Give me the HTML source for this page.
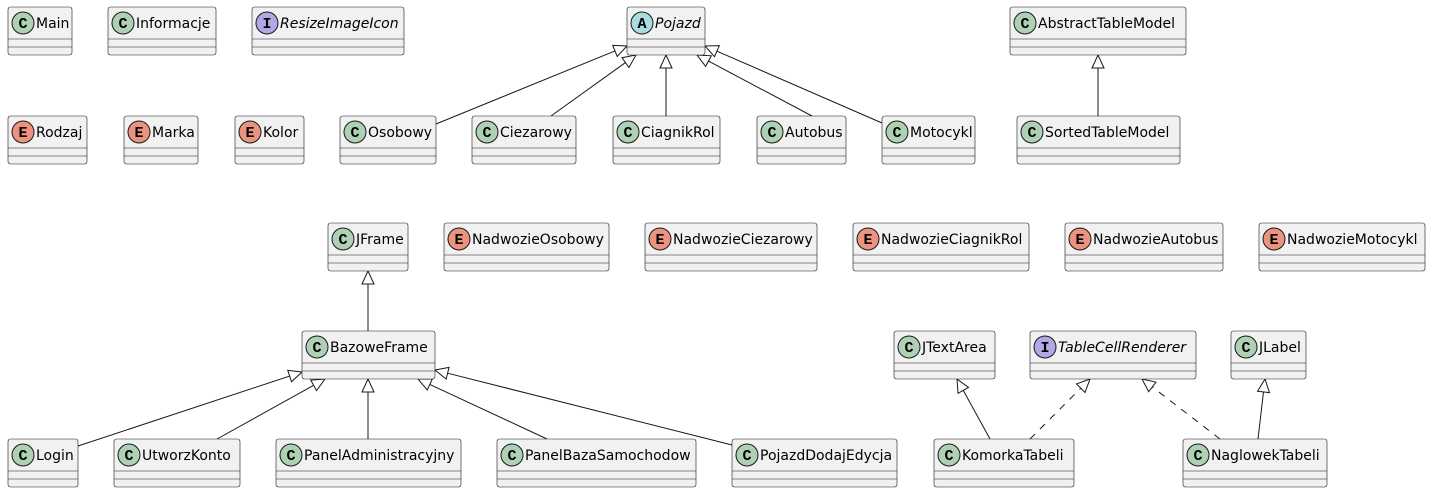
<!DOCTYPE html>
<html><head><meta charset="utf-8"><style>
html,body{margin:0;padding:0;background:#fff;}
svg{display:block;font-family:"DejaVu Sans","Liberation Sans",sans-serif;}
</style></head><body>
<svg id="s" width="1433" height="494" xmlns="http://www.w3.org/2000/svg"></svg>
<script>
var s=document.getElementById('s'),NS='http://www.w3.org/2000/svg';
function el(t,a,txt){var e=document.createElementNS(NS,t);for(var k in a)e.setAttribute(k,a[k]);if(txt)e.textContent=txt;s.appendChild(e);return e;}
var col={C:'#ADD1B2',I:'#B4A7E5',E:'#EB937F',A:'#A9DCDF'};
function box(n,k,x1,x2,y,it){
 el('rect',{x:x1,y:y,width:x2-x1,height:48,rx:2.5,fill:'#F1F1F1',stroke:'#181818','stroke-width':0.6});
 el('line',{x1:x1,y1:y+32,x2:x2,y2:y+32,stroke:'#181818','stroke-width':0.6});
 el('line',{x1:x1,y1:y+40,x2:x2,y2:y+40,stroke:'#181818','stroke-width':0.6});
 el('circle',{cx:x1+15,cy:y+16,r:11,fill:col[k],stroke:'#181818','stroke-width':1});
 el('text',{x:x1+15,y:y+21,'text-anchor':'middle','font-size':15,'font-weight':'bold','font-family':'Liberation Mono,monospace'},k);
 var a={x:x1+28,y:y+21,'font-size':14,fill:'#000'};if(it)a['font-style']='italic';
 el('text',a,n);
}
function edge(x1,y1,x2,y2,dash){
 var dx=x2-x1,dy=y2-y1,L=Math.sqrt(dx*dx+dy*dy),ux=dx/L,uy=dy/L,bx=x2-ux*13,by=y2-uy*13,px=-uy*6,py=ux*6;
 var a={x1:x1,y1:y1,x2:bx,y2:by,stroke:'#181818','stroke-width':1};if(dash)a['stroke-dasharray']='7,7';
 el('line',a);
 el('polygon',{points:x2+','+y2+' '+(bx+px)+','+(by+py)+' '+(bx-px)+','+(by-py),fill:'#fff',stroke:'#181818','stroke-width':1});
}
edge(436,124,627,46);edge(551,116,636,55);edge(666,116,666,55);edge(812,116,697,55);edge(882,123,705,46);
edge(1098,116,1098,55);edge(368,331,368,271);
edge(78,446,302,372);edge(217,439,325,379);edge(368,439,368,379);edge(547,439,418,379);edge(732,445,435,370);
edge(990,439,957,379);edge(1030,439,1090,379,1);edge(1220,439,1142,379,1);edge(1258,439,1265,379);
var B=[['Main','C',8,72,7],['Informacje','C',108,216,7],['ResizeImageIcon','I',252,404,7,1],['Pojazd','A',627,705,7,1],['AbstractTableModel','C',1010,1186,7],
['Rodzaj','E',8,87,116],['Marka','E',124,198,116],['Kolor','E',235,304,116],['Osobowy','C',340,436,116],['Ciezarowy','C',472,576,116],['CiagnikRol','C',613,720,116],['Autobus','C',757,846,116],['Motocykl','C',882,975,116],['SortedTableModel','C',1017,1180,116],
['JFrame','C',328,408,223],['NadwozieOsobowy','E',444,609,223],['NadwozieCiezarowy','E',645,817,223],['NadwozieCiagnikRol','E',853,1029,223],['NadwozieAutobus','E',1065,1223,223],['NadwozieMotocykl','E',1259,1425,223],
['BazoweFrame','C',302,435,331],['JTextArea','C',894,995,331],['TableCellRenderer','I',1030,1196,331,1],['JLabel','C',1231,1306,331],
['Login','C',8,78,439],['UtworzKonto','C',114,240,439],['PanelAdministracyjny','C',276,461,439],['PanelBazaSamochodow','C',497,696,439],['PojazdDodajEdycja','C',732,897,439],['KomorkaTabeli','C',934,1074,439],['NaglowekTabeli','C',1183,1327,439]];
B.forEach(function(b){box(b[0],b[1],b[2],b[3],b[4],b[5]);});
</script>
</body></html>
